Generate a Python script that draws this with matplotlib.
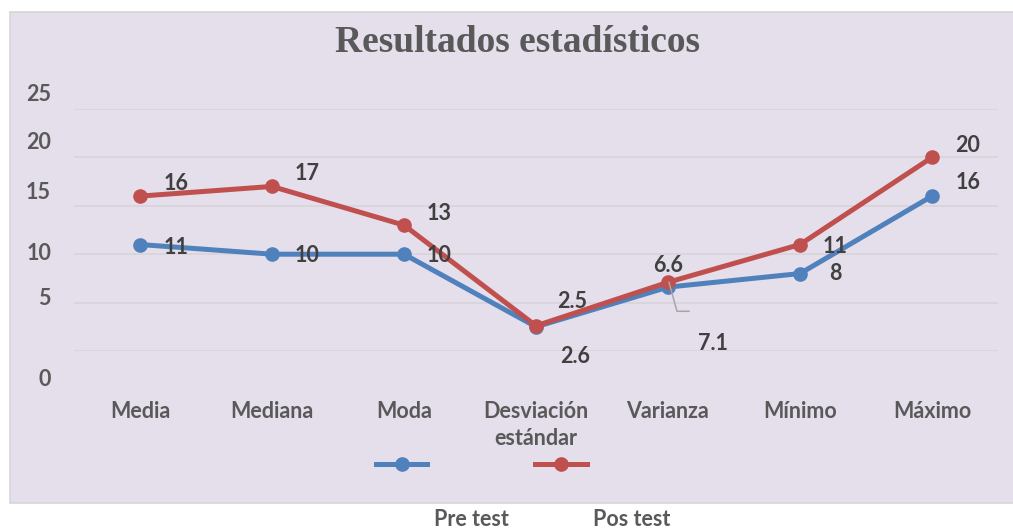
import matplotlib.pyplot as plt
from matplotlib.lines import Line2D
from matplotlib.patches import Rectangle
from matplotlib.transforms import IdentityTransform

# Datos del gráfico
categorias = ['Media', 'Mediana', 'Moda', 'Desviación\nestándar', 'Varianza', 'Mínimo', 'Máximo']
pre_test = [11, 10, 10, 2.5, 6.6, 8, 16]
pos_test = [16, 17, 13, 2.6, 7.1, 11, 20]
etiquetas_pre = ['11', '10', '10', '2.5', '6.6', '8', '16']
etiquetas_pos = ['16', '17', '13', '2.6', '7.1', '11', '20']
series = ['Pre test', 'Pos test']
marcas_y = [0, 5, 10, 15, 20, 25]
# posición (en datos) donde aparece cada número del eje y
pos_marcas_y = [-2.9, 5.4, 10.1, 16.4, 21.5, 26.45]

azul = '#4F81BD'
rojo = '#C0504D'
gris = '#595959'
fuente = ['Lato', 'DejaVu Sans']
tam = 15.5

# desplazamientos de las etiquetas (px, abajo positivo)
desp_pre = [(36, 3), (35, 1), (35, 1), (36, -25), (0, -22), (35, 0), (36, -14)]
desp_pos = [(36, -13), (35, -13), (35, -12), (39, 31), (45, 61), (35, 2), (36, -12)]

fig = plt.figure(figsize=(10.13, 5.32), dpi=100)
fig.patch.set_facecolor('white')

# Fondo del área del gráfico
fig.add_artist(Rectangle((10 / 1013, 1 - 503 / 532), 1.0, 491 / 532,
                         transform=fig.transFigure, facecolor='#E5DEEB',
                         edgecolor='#D6D6D6', linewidth=1.2, zorder=0))

ax = fig.add_axes([74 / 1013, 1 - 351 / 532, 924 / 1013, 242 / 532])
ax.set_facecolor('none')
x = list(range(len(categorias)))

ax.plot(x, pre_test, color=azul, lw=3.6, marker='o', ms=9.5, zorder=3,
        solid_capstyle='round', label=series[0])
ax.plot(x, pos_test, color=rojo, lw=3.6, marker='o', ms=9.5, zorder=4,
        solid_capstyle='round', label=series[1])

ax.set_xlim(-0.5, len(categorias) - 0.5)
ax.set_ylim(0, 25)
ax.set_yticks(marcas_y)
ax.set_yticklabels([])
ax.grid(axis='y', color='#D9D4DC', lw=1.3)
ax.tick_params(axis='both', length=0)
for s in ax.spines.values():
    s.set_visible(False)

ax.set_xticks(x)
ax.set_xticklabels(categorias, fontsize=tam, fontweight='bold', color=gris,
                   family=fuente, linespacing=1.35)
ax.tick_params(axis='x', pad=36)

for val, pos in zip(marcas_y, pos_marcas_y):
    ax.text(-0.0249, pos, str(val), transform=ax.get_yaxis_transform(),
            ha='right', va='center', fontsize=tam, fontweight='bold',
            color=gris, family=fuente, clip_on=False)

# Etiquetas de datos
for serie, etiquetas, desp in [(pre_test, etiquetas_pre, desp_pre),
                               (pos_test, etiquetas_pos, desp_pos)]:
    for i, (v, t) in enumerate(zip(serie, etiquetas)):
        dx, dy = desp[i]
        ax.annotate(t, (i, v), xytext=(dx * 0.72, -dy * 0.72),
                    textcoords='offset points', ha='center', va='center',
                    fontsize=tam, fontweight='bold', color='#404040',
                    family=fuente, zorder=5)

# Línea guía de la etiqueta 7.1
x0, y0 = ax.transData.transform((4, pos_test[4]))
fig.add_artist(Line2D([x0 + 1, x0 + 9, x0 + 21], [y0, y0 - 29, y0 - 29],
                      transform=IdentityTransform(), color='#A6A6A6', lw=1.1,
                      zorder=6))

# Título
fig.text(517 / 1013, 1 - 42 / 532, 'Resultados estadísticos', ha='center',
         va='center', fontsize=27, fontweight='bold', color=gris,
         family='Liberation Serif')

# Leyenda
for (x1, x2), color in zip([(376, 427), (535, 587)], [azul, rojo]):
    yl = 1 - 464 / 532
    fig.add_artist(Line2D([x1 / 1013, x2 / 1013], [yl, yl], color=color,
                          lw=3.6, transform=fig.transFigure))
    fig.add_artist(Line2D([(x1 + x2) / 2 / 1013], [yl], color=color,
                          marker='o', ms=9.5, transform=fig.transFigure))
for xc, nombre in zip([471, 632], series):
    fig.text(xc / 1013, 1 - 520 / 532, nombre, ha='center', va='center',
             fontsize=tam, fontweight='bold', color=gris, family=fuente)

fig.savefig('out.png', dpi=100)
